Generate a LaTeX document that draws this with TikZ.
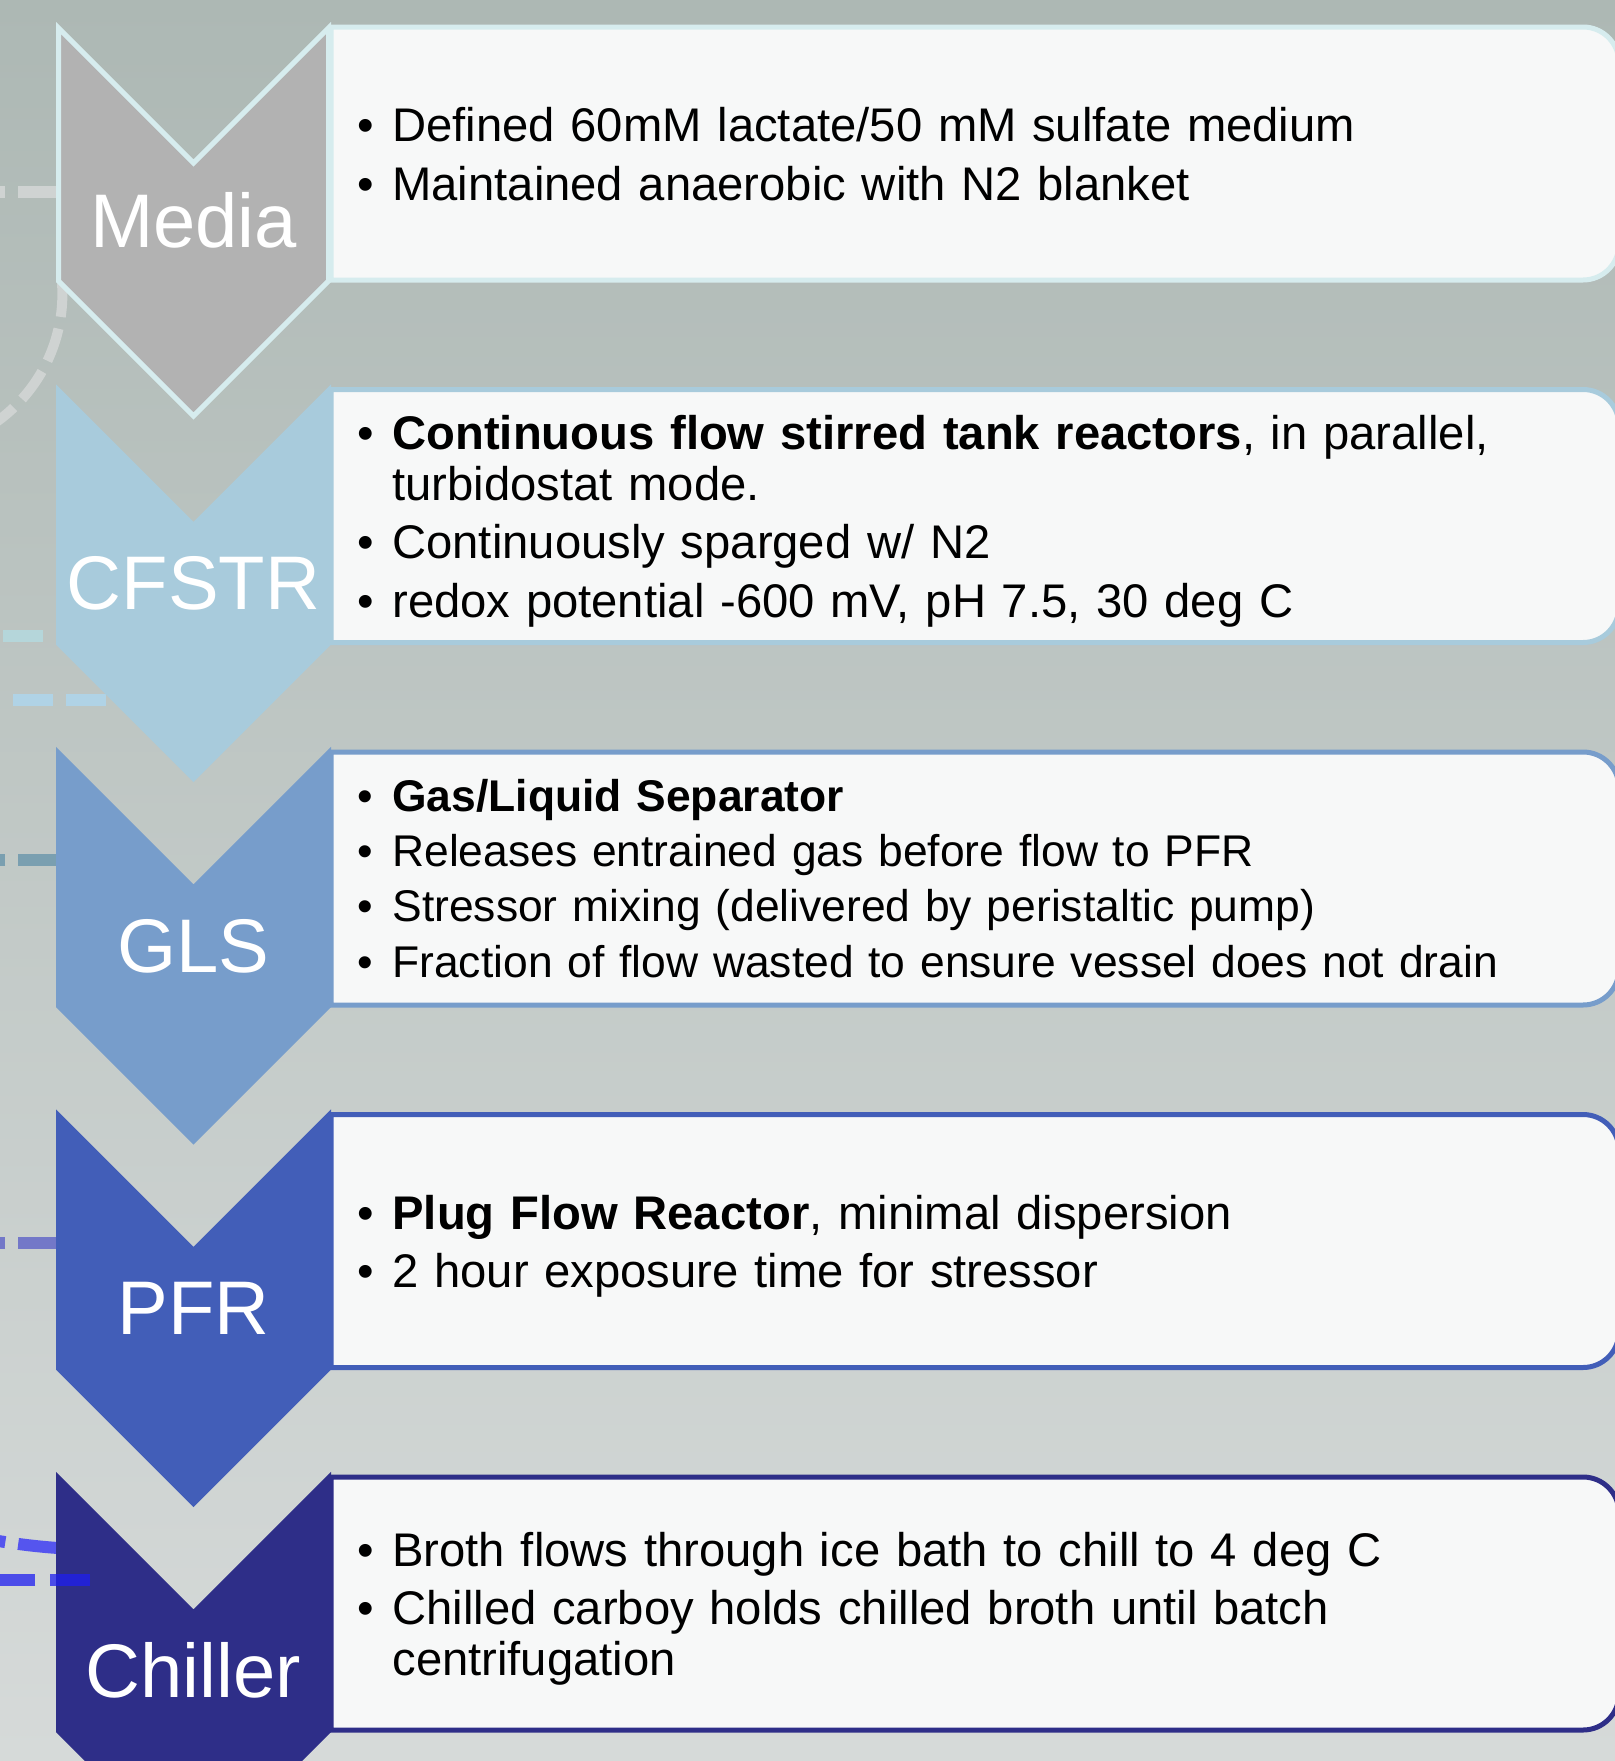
\documentclass[tikz,border=0pt]{standalone}
\usepackage{fontspec}
\setmainfont{Liberation Sans}
\usetikzlibrary{positioning}
\definecolor{bgtop}{RGB}{173,184,180}
\definecolor{bgbot}{RGB}{214,218,217}
\definecolor{boxfill}{RGB}{247,248,248}
\definecolor{media}{RGB}{178,178,178}
\definecolor{mediaedge}{RGB}{214,236,238}
\definecolor{cfstr}{RGB}{168,203,220}
\definecolor{gls}{RGB}{119,157,203}
\definecolor{pfr}{RGB}{66,94,184}
\definecolor{chill}{RGB}{46,46,136}
\definecolor{mediadash}{RGB}{207,211,210}
\definecolor{cfdashA}{RGB}{181,214,218}
\definecolor{cfdashB}{RGB}{176,211,230}
\definecolor{glsdash}{RGB}{122,159,176}
\definecolor{pfrdash}{RGB}{115,120,200}
\definecolor{chdashA}{RGB}{85,85,238}
\definecolor{chdashB}{RGB}{30,30,240}
\newlength{\bulind}
\setlength{\bulind}{17.5pt}
\newcommand{\bitem}[1]{\par\setlength{\parskip}{0.16em}\setlength{\lineskiplimit}{-30pt}%
  \rightskip=0pt plus 1fil\relax\hyphenpenalty=10000\relax
  \setlength{\hangindent}{\bulind}\hangafter=1\relax
  \noindent\makebox[\bulind][l]{\textbullet}\rule[-0.212em]{0pt}{1.117em}#1}
\tikzset{
  chev/.style={line width=2.5pt, line join=miter},
  stepbox/.style={fill=boxfill, line width=2.5pt},
  steplab/.style={anchor=base, text=white, inner sep=0pt, font=\fontsize{38}{40}\selectfont},
  bullets/.style={anchor=west, inner sep=0pt, text width=610pt, yshift=3.5pt,
    font=\fontsize{23.6}{25.5}\selectfont},
  smaller/.style={font=\fontsize{22.2}{24}\selectfont},
  pipe/.style={line width=6pt, dash pattern=on 20pt off 6.5pt},
}
\begin{document}
\begin{tikzpicture}[x=0.5pt,y=-0.5pt]
  \useasboundingbox (0,0) rectangle (1615,1761);
  \clip (0,0) rectangle (1615,1761);
  \shade[top color=bgtop, bottom color=bgbot] (0,0) rectangle (1615,1761);
  % pipe ends coming in from the left
  \draw[pipe, mediadash] (58,192) -- (-20,192);
  \draw[mediadash, line width=5pt, dash pattern=on 17pt off 6pt] (62,283) arc[start angle=4, end angle=-75, radius=78.5pt];
  \draw[pipe, cfdashA] (43,636) -- (-20,636);
  \draw[pipe, cfdashB] (106,700) -- (-20,700);
  \draw[pipe, glsdash] (58,860) -- (-20,860);
  \draw[pipe, pfrdash] (58,1243) -- (-20,1243);
  \draw[pipe, chdashA] (58,1548) .. controls (30,1546) and (10,1543) .. (-20,1538);
  \foreach \s/\fc/\ec/\lab [count=\k from 0] in {media/media/mediaedge/Media, cfstr/cfstr/cfstr/CFSTR,
      gls/gls/gls/GLS, pfr/pfr/pfr/PFR, chill/chill/chill/Chiller}{
    \pgfmathsetmacro{\ya}{25+362.5*\k}
    \draw[stepbox, draw=\ec] (331,\ya+2) -- (1583,\ya+2) arc[start angle=90, end angle=0, radius=18pt]
      -- (1619,\ya+219) arc[start angle=0, end angle=-90, radius=18pt] -- (331,\ya+255) -- cycle;
    \filldraw[chev, fill=\fc, draw=\ec] (58.5,\ya+3) -- (193.5,\ya+138) -- (328.5,\ya+3) -- (328.5,\ya+256)
      -- (193.5,\ya+391) -- (58.5,\ya+256) -- cycle;
    \coordinate (\s-box) at (331,\ya+128.5);
    \node[steplab] (\s-lab) at (193.5,\ya+222) {\lab};
  }
  \draw[pipe, chdashB, opacity=.75, dash pattern=on 20pt off 7.5pt] (90,1580) -- (-20,1580);
  \node[bullets, right=13pt of media-box] (media-txt) {\bitem{Defined 60mM lactate/50 mM sulfate medium}
    \bitem{Maintained anaerobic with N2 blanket}\par};
  \node[bullets, right=13pt of cfstr-box] (cfstr-txt) {\bitem{\textbf{Continuous flow stirred tank reactors}, in parallel, turbidostat mode.}
    \bitem{Continuously sparged w/ N2}
    \bitem{redox potential -600 mV, pH 7.5, 30 deg C}\par};
  \node[bullets, smaller, right=13pt of gls-box] (gls-txt) {\bitem{\textbf{Gas/Liquid Separator}}
    \bitem{Releases entrained gas before flow to PFR}
    \bitem{Stressor mixing (delivered by peristaltic pump)}
    \bitem{Fraction of flow wasted to ensure vessel does not drain}\par};
  \node[bullets, right=13pt of pfr-box] (pfr-txt) {\bitem{\textbf{Plug Flow Reactor}, minimal dispersion}
    \bitem{2 hour exposure time for stressor}\par};
  \node[bullets, right=13pt of chill-box] (chill-txt) {\bitem{Broth flows through ice bath to chill to 4 deg C}
    \bitem{Chilled carboy holds chilled broth until batch centrifugation}\par};
\end{tikzpicture}
\end{document}
